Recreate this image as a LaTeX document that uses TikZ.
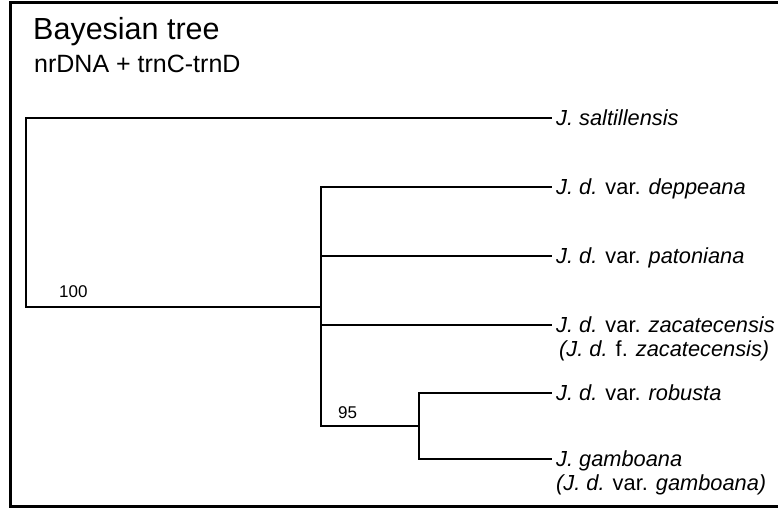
\documentclass[tikz,border=0pt]{standalone}
\usepackage{fontspec}
\setmainfont{Liberation Sans}
\begin{document}
\begin{tikzpicture}[x=1pt,y=-1pt,
  frame/.style={line width=3pt},
  branch/.style={line width=2pt},
  leaf/.style={anchor=west, inner xsep=4pt, inner ysep=0pt, text height=15.5pt, text depth=0pt,
    font=\fontsize{21.8}{26}\selectfont\itshape},
  boot/.style={anchor=base west, inner sep=0pt, font=\fontsize{17}{20}\selectfont},
  title/.style={anchor=base west, inner sep=0pt, font=\fontsize{30.5}{37}\selectfont},
  subtitle/.style={anchor=base west, inner sep=0pt, font=\fontsize{25}{29}\selectfont}]
\useasboundingbox (0,0) rectangle (778,508);
\draw[frame] (782,3) -- (10,3) -- (10,506) -- (782,506);
\node[title] (ttl) at (33,40) {Bayesian tree};
\node[subtitle] (sub) at (34,73) {nrDNA + trnC-trnD};
% tree nodes
\coordinate (root) at (26,212);
\coordinate (c1) at (321,306.5);
\coordinate (c2) at (419,426);
\node[leaf] (sal) at (552,118) {J. saltillensis};
\node[leaf] (dep) at (552,187) {J. d. {\upshape var.} deppeana};
\node[leaf] (pat) at (552,256) {J. d. {\upshape var.} patoniana};
\node[leaf] (zac) at (552,325) {J. d. {\upshape var.} zacatecensis};
\node[leaf] (zacf) at (555,349) {(J. d. {\upshape f.} zacatecensis)};
\node[leaf] (rob) at (552,393) {J. d. {\upshape var.} robusta};
\node[leaf] (gam) at (552,459) {J. gamboana};
\node[leaf] (gamv) at (552,483) {(J. d. {\upshape var.} gamboana)};
% branches
\draw[branch] (root) |- (sal.west);
\draw[branch] (root) |- (c1);
\draw[branch] (c1) |- (dep.west);
\draw[branch] (c1) |- (pat.west);
\draw[branch] (c1) -- (zac.west -| c1) -- (zac.west);
\draw[branch] (c1) |- (c2);
\draw[branch] (c2) |- (rob.west);
\draw[branch] (c2) |- (gam.west);
% support values
\node[boot] (b100) at (59,297) {100};
\node[boot] (b95) at (338,418) {95};
\end{tikzpicture}
\end{document}
